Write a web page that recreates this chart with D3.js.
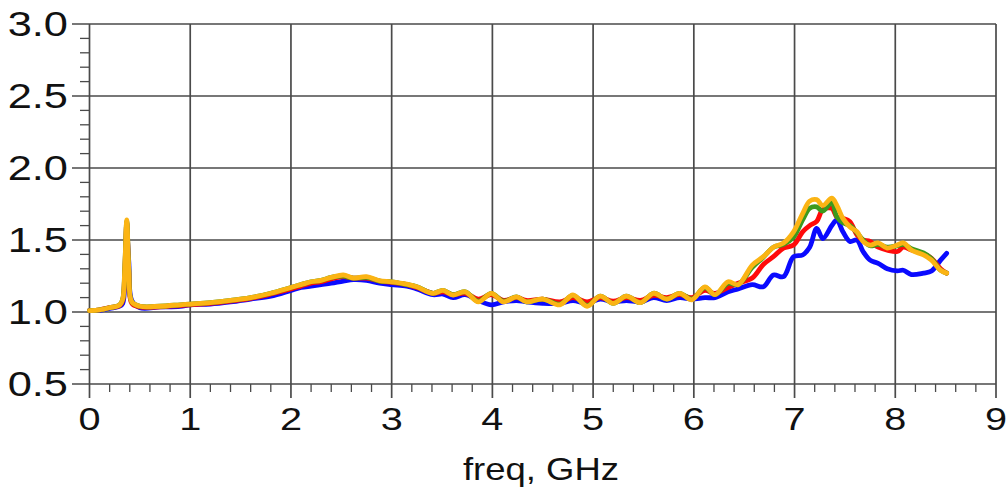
<!DOCTYPE html>
<html>
<head>
<meta charset="utf-8">
<script src="https://cdn.jsdelivr.net/npm/d3@7.9.0/dist/d3.min.js"></script>
<style>
  html, body { margin: 0; padding: 0; background: #fff; }
  svg { display: block; }
  text { font-family: "Liberation Sans", Arial, sans-serif; fill: #111; }
</style>
</head>
<body>
<svg id="chart" width="1008" height="493"></svg>
<script>
// frequency grid (GHz), shared by all four traces
const freq = [
  0, 0.1, 0.2, 0.3, 0.33, 0.35, 0.37, 0.39, 0.42, 0.5,
  0.7, 0.9, 1.0, 1.2, 1.4, 1.6, 1.8, 2.0, 2.1, 2.2,
  2.3, 2.4, 2.52, 2.62, 2.75, 2.88, 3.0, 3.15, 3.25, 3.41,
  3.51, 3.61, 3.73, 3.86, 3.99, 4.11, 4.24, 4.34, 4.5, 4.67,
  4.8, 4.94, 5.07, 5.2, 5.33, 5.47, 5.6, 5.73, 5.86, 5.98,
  6.11, 6.21, 6.34, 6.44, 6.58, 6.69, 6.79, 6.89, 6.99, 7.08,
  7.15, 7.22, 7.28, 7.37, 7.42, 7.48, 7.55, 7.62, 7.68, 7.75,
  7.83, 7.92, 8.02, 8.08, 8.16, 8.28, 8.36, 8.45, 8.51
];

const blueVals = [
  1.01, 1.012, 1.025, 1.04, 1.06, 1.2, 1.55, 1.35, 1.08, 1.03,
  1.035, 1.04, 1.05, 1.055, 1.07, 1.09, 1.11, 1.15, 1.17, 1.18,
  1.19, 1.2, 1.215, 1.225, 1.22, 1.2, 1.19, 1.18, 1.16, 1.12,
  1.125, 1.1, 1.12, 1.08, 1.05, 1.07, 1.08, 1.07, 1.06, 1.06,
  1.08, 1.06, 1.09, 1.07, 1.08, 1.07, 1.1, 1.08, 1.1, 1.09,
  1.1, 1.1, 1.14, 1.16, 1.19, 1.175, 1.257, 1.245, 1.384, 1.396,
  1.45, 1.58, 1.51, 1.6, 1.64, 1.557, 1.49, 1.5, 1.42, 1.36,
  1.338, 1.3, 1.285, 1.29, 1.26, 1.27, 1.285, 1.36, 1.407
];

const redVals = [
  1.01, 1.015, 1.03, 1.045, 1.08, 1.28, 1.62, 1.28, 1.06, 1.035,
  1.035, 1.045, 1.05, 1.06, 1.075, 1.095, 1.125, 1.16, 1.18, 1.2,
  1.21, 1.23, 1.245, 1.235, 1.235, 1.215, 1.205, 1.19, 1.17, 1.13,
  1.14, 1.12, 1.13, 1.09, 1.12, 1.08, 1.1, 1.08, 1.09, 1.07,
  1.1, 1.07, 1.1, 1.075, 1.1, 1.08, 1.115, 1.1, 1.12, 1.1,
  1.15, 1.13, 1.17, 1.2, 1.236, 1.33, 1.384, 1.444, 1.465, 1.557,
  1.6, 1.63, 1.71, 1.72, 1.66, 1.65, 1.627, 1.535, 1.5, 1.49,
  1.45, 1.43, 1.42, 1.45, 1.43, 1.405, 1.373, 1.3, 1.27
];

const greenVals = [
  1.01, 1.015, 1.03, 1.05, 1.09, 1.3, 1.63, 1.3, 1.07, 1.04,
  1.04, 1.05, 1.055, 1.065, 1.08, 1.1, 1.13, 1.17, 1.19, 1.21,
  1.22, 1.24, 1.25, 1.235, 1.24, 1.215, 1.21, 1.19, 1.175, 1.13,
  1.15, 1.12, 1.14, 1.075, 1.13, 1.075, 1.105, 1.07, 1.09, 1.055,
  1.115, 1.045, 1.11, 1.06, 1.11, 1.065, 1.13, 1.09, 1.13, 1.09,
  1.17, 1.12, 1.2, 1.19, 1.31, 1.38, 1.45, 1.47, 1.52, 1.64,
  1.72, 1.73, 1.7, 1.76, 1.66, 1.62, 1.6, 1.55, 1.5, 1.46,
  1.47, 1.45, 1.46, 1.47, 1.44, 1.41, 1.37, 1.29, 1.27
];

const yellowVals = [
  1.01, 1.015, 1.03, 1.05, 1.09, 1.3, 1.64, 1.3, 1.07, 1.04,
  1.04, 1.05, 1.055, 1.065, 1.08, 1.1, 1.13, 1.17, 1.19, 1.21,
  1.22, 1.24, 1.257, 1.236, 1.245, 1.217, 1.21, 1.194, 1.175, 1.13,
  1.15, 1.118, 1.14, 1.07, 1.13, 1.07, 1.105, 1.07, 1.09, 1.05,
  1.118, 1.04, 1.11, 1.06, 1.11, 1.065, 1.13, 1.09, 1.13, 1.085,
  1.175, 1.12, 1.21, 1.19, 1.326, 1.384, 1.45, 1.479, 1.557, 1.684,
  1.77, 1.78, 1.74, 1.79, 1.74, 1.65, 1.59, 1.557, 1.49, 1.465,
  1.48, 1.444, 1.465, 1.48, 1.43, 1.396, 1.36, 1.29, 1.27
];

const xTicks = [0, 1, 2, 3, 4, 5, 6, 7, 8, 9];
const yTicks = [0.5, 1.0, 1.5, 2.0, 2.5, 3.0];
const xLabel = "freq, GHz";

const series = [
  { name: "blue", values: blueVals, color: "#0a0aff" },
  { name: "red", values: redVals, color: "#ff0a0a" },
  { name: "green", values: greenVals, color: "#3c9a1e" },
  { name: "yellow", values: yellowVals, color: "#fbb414" }
];

const svg = d3.select('#chart');
const x = d3.scaleLinear().domain([0, 9]).range([89.5, 996]);
const y = d3.scaleLinear().domain([0.5, 3]).range([384, 24]);
const gridColor = "#4a4a4a";

// minor ticks
const xMinor = d3.range(0, 9.001, 0.2).filter(d => Math.abs(d - Math.round(d)) > 0.01);
const yMinor = d3.range(0.5, 3.001, 0.1).filter(d => Math.abs(d * 2 - Math.round(d * 2)) > 0.01);

svg.append('g').selectAll('line').data(xMinor).enter().append('line')
  .attr('x1', d => x(d)).attr('x2', d => x(d))
  .attr('y1', 384).attr('y2', 392)
  .attr('stroke', gridColor).attr('stroke-width', 1.3);

svg.append('g').selectAll('line').data(yMinor).enter().append('line')
  .attr('x1', 80).attr('x2', 89.5)
  .attr('y1', d => y(d)).attr('y2', d => y(d))
  .attr('stroke', gridColor).attr('stroke-width', 1.3);

// grid lines (extend past the axes as major ticks)
svg.append('g').selectAll('line').data(xTicks).enter().append('line')
  .attr('x1', d => x(d)).attr('x2', d => x(d))
  .attr('y1', y(3)).attr('y2', 398)
  .attr('stroke', gridColor).attr('stroke-width', 1.7);

svg.append('g').selectAll('line').data(yTicks).enter().append('line')
  .attr('x1', 72).attr('x2', x(9))
  .attr('y1', d => y(d)).attr('y2', d => y(d))
  .attr('stroke', gridColor).attr('stroke-width', 1.7);

// tick labels (the source font is stretched wide)
svg.append('g').selectAll('text').data(yTicks).enter().append('text')
  .attr('transform', d => `translate(68,${y(d) + 12}) scale(1.24,1)`)
  .attr('text-anchor', 'end')
  .attr('font-size', 35)
  .text(d => d.toFixed(1));

svg.append('g').selectAll('text').data(xTicks).enter().append('text')
  .attr('transform', d => `translate(${x(d)},430) scale(1.28,1)`)
  .attr('text-anchor', 'middle')
  .attr('font-size', 31)
  .text(d => d);

svg.append('text')
  .attr('transform', 'translate(541,480) scale(1.14,1)')
  .attr('text-anchor', 'middle')
  .attr('font-size', 32)
  .text(xLabel);

// traces
const line = d3.line()
  .x((d, i) => x(freq[i]))
  .y(d => y(d))
  .curve(d3.curveCatmullRom.alpha(0.5));

svg.append('g').selectAll('path').data(series).enter().append('path')
  .attr('d', d => line(d.values))
  .attr('fill', 'none')
  .attr('stroke', d => d.color)
  .attr('stroke-width', 4.8)
  .attr('stroke-linejoin', 'round')
  .attr('stroke-linecap', 'round');
</script>
</body>
</html>
